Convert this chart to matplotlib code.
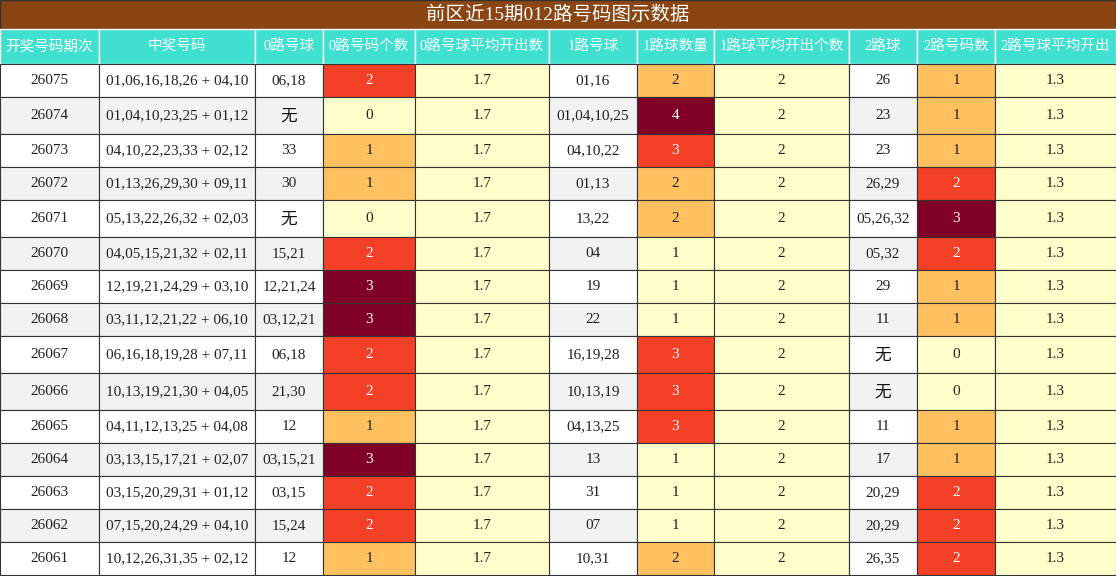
import matplotlib
matplotlib.use("Agg")
import matplotlib.pyplot as plt
from matplotlib.patches import Rectangle

title = "前区近15期012路号码图示数据"
headers = ["开奖号码期次","中奖号码","0路号球","0路号码个数","0路号球平均开出数","1路号球","1路球数量","1路球平均开出个数","2路球","2路号码数","2路号球平均开出"]
periods = ["26075","26074","26073","26072","26071","26070","26069","26068","26067","26066","26065","26064","26063","26062","26061"]
draws = ["01,06,16,18,26 + 04,10","01,04,10,23,25 + 01,12","04,10,22,23,33 + 02,12","01,13,26,29,30 + 09,11",
         "05,13,22,26,32 + 02,03","04,05,15,21,32 + 02,11","12,19,21,24,29 + 03,10","03,11,12,21,22 + 06,10",
         "06,16,18,19,28 + 07,11","10,13,19,21,30 + 04,05","04,11,12,13,25 + 04,08","03,13,15,17,21 + 02,07",
         "03,15,20,29,31 + 01,12","07,15,20,24,29 + 04,10","10,12,26,31,35 + 02,12"]
r0 = ["06,18","无","33","30","无","15,21","12,21,24","03,12,21","06,18","21,30","12","03,15,21","03,15","15,24","12"]
c0 = [2,0,1,1,0,2,3,3,2,2,1,3,2,2,1]
r1 = ["01,16","01,04,10,25","04,10,22","01,13","13,22","04","19","22","16,19,28","10,13,19","04,13,25","13","31","07","10,31"]
c1 = [2,4,3,2,2,1,1,1,3,3,3,1,1,1,2]
r2 = ["26","23","23","26,29","05,26,32","05,32","29","11","无","无","11","17","20,29","20,29","26,35"]
c2 = [1,1,1,2,3,2,1,1,0,0,1,1,2,2,2]
avg0, avg1, avg2 = "1.7", "2", "1.3"

W, H = 1116, 576
colx = [0,99,255,323,415,549,637,714,849,917,995,1116]
fig = plt.figure(figsize=(W/100, H/100), dpi=100)
ax = fig.add_axes([0,0,1,1]); ax.set_xlim(0,W); ax.set_ylim(H,0); ax.axis("off")
fam = ["Liberation Serif","Noto Sans CJK SC"]
cjk = ["Noto Sans CJK SC"]
edge = "#333333"
ax.add_patch(Rectangle((0,0),W,29,facecolor="#8B4513",edgecolor=edge,lw=1))
ax.text(W/2,15,title,ha="center",va="center",fontsize=14,color="white",family=fam)
for i,h in enumerate(headers):
    ax.add_patch(Rectangle((colx[i],29),colx[i+1]-colx[i],35,facecolor="#40E0D0",edgecolor="white",lw=1))
    ax.text((colx[i]+colx[i+1])/2,46.5,h,ha="center",va="center",fontsize=10.5,color="white",family=fam)
heat = ["#FFFFCC","#FFC060","#F44027","#800026"]
def hc(v, vals):
    lo = min(vals); return heat[min(3, v-lo)]
y = 64
for r in range(len(periods)):
    row = [periods[r],draws[r],r0[r],str(c0[r]),avg0,r1[r],str(c1[r]),avg1,r2[r],str(c2[r]),avg2]
    h = 37 if "无" in row else 33
    base = "white" if r%2==0 else "#F2F2F2"
    for i,t in enumerate(row):
        fc, tc = base, "#222222"
        if i in (4,7,10): fc = "#FFFFCC"
        if i==3: fc = hc(c0[r],c0)
        if i==6: fc = hc(c1[r],c1)
        if i==9: fc = hc(c2[r],c2)
        if fc in ("#F44027","#800026"): tc = "white"
        ax.add_patch(Rectangle((colx[i],y),colx[i+1]-colx[i],h,facecolor=fc,edgecolor=edge,lw=0.8))
        if t=="无":
            ax.text((colx[i]+colx[i+1])/2,y+h/2+1,t,ha="center",va="center",fontsize=12,color="#111111",family=cjk)
        else:
            ax.text((colx[i]+colx[i+1])/2,y+h/2,t,ha="center",va="center",fontsize=11,color=tc,family=fam)
    y += h
fig.savefig("out.png",dpi=100)
